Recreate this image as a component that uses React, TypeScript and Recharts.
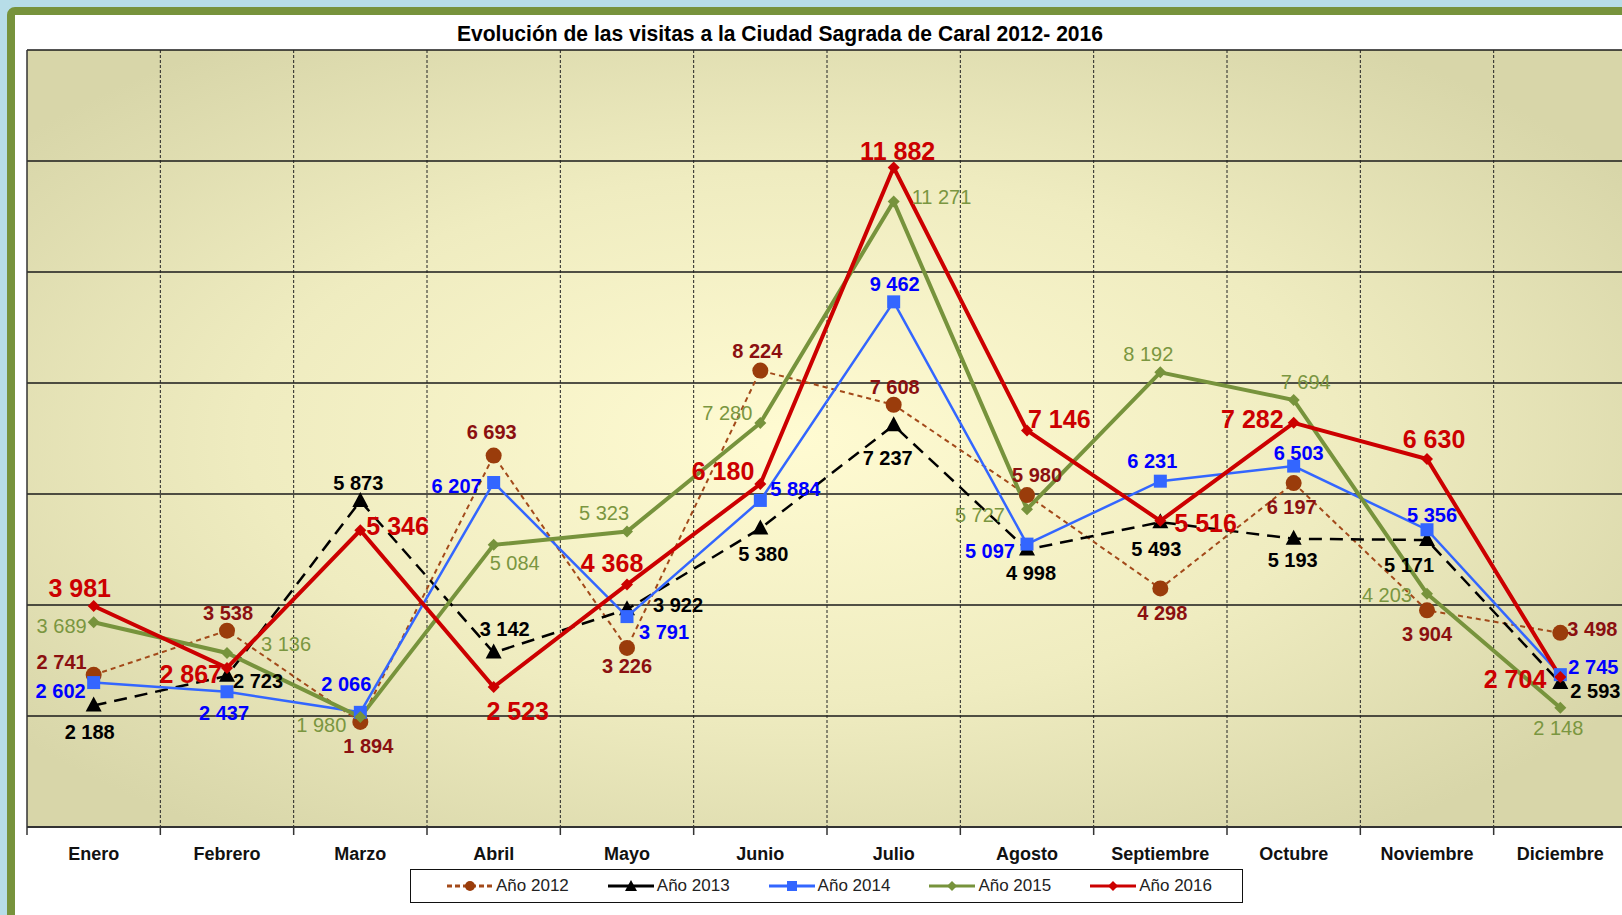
import React from "react";
import { LineChart, Line, XAxis, YAxis, CartesianGrid } from "recharts";

const meses = ["Enero", "Febrero", "Marzo", "Abril", "Mayo", "Junio", "Julio", "Agosto", "Septiembre", "Octubre", "Noviembre", "Diciembre"];
const anio2012 = [2741, 3538, 1894, 6693, 3226, 8224, 7608, 5980, 4298, 6197, 3904, 3498];
const anio2013 = [2188, 2723, 5873, 3142, 3922, 5380, 7237, 4998, 5493, 5193, 5171, 2593];
const anio2014 = [2602, 2437, 2066, 6207, 3791, 5884, 9462, 5097, 6231, 6503, 5356, 2745];
const anio2015 = [3689, 3136, 1980, 5084, 5323, 7280, 11271, 5727, 8192, 7694, 4203, 2148];
const anio2016 = [3981, 2867, 5346, 2523, 4368, 6180, 11882, 7146, 5516, 7282, 6630, 2704];
const yTicks = [0, 2000, 4000, 6000, 8000, 10000, 12000, 14000];

// label placement relative to each marker: [anchor, dx, dy(baseline)]
type Place = [string, number, number];
const lbl2012: Place[] = [["e", -7, -6], ["m", 1, -11], ["m", 8, 31], ["m", -2, -17], ["m", 0, 25], ["m", -3, -13], ["m", 1, -11], ["m", 10, -13], ["m", 2, 32], ["m", -2, 31], ["m", 0, 31], ["s", 7, 3]];
const lbl2013: Place[] = [["m", -4, 33], ["s", 6, 12], ["m", -2, -11], ["m", 11, -17], ["s", 26, 3], ["m", 3, 33], ["m", -6, 40], ["m", 4, 30], ["m", -4, 34], ["m", -1, 28], ["m", -18, 32], ["s", 10, 15]];
const lbl2014: Place[] = [["e", -8, 15], ["m", -3, 28], ["m", -14, -21], ["e", -12, 10], ["s", 12, 22], ["s", 10, -4], ["m", 1, -11], ["e", -12, 14], ["m", -8, -13], ["m", 5, -6], ["m", 5, -8], ["s", 8, -1]];
const lbl2015: Place[] = [["e", -7, 11], ["s", 34, -2], ["e", -14, 15], ["m", 21, 25], ["m", -23, -12], ["e", -8, -3], ["s", 18, 3], ["e", -22, 13], ["m", -12, -11], ["m", 12, -11], ["e", -15, 8], ["m", -2, 27]];
const lbl2016: Place[] = [["m", -14, -9], ["e", -5, 15], ["s", 6, 5], ["m", 24, 33], ["m", -15, -13], ["e", -6, -4], ["m", 4, -8], ["s", 1, -2], ["s", 14, 11], ["e", -10, 5], ["m", 7, -11], ["e", -14, 11]];

const data = meses.map((mes, i) => ({
  mes,
  a2012: anio2012[i],
  a2013: anio2013[i],
  a2014: anio2014[i],
  a2015: anio2015[i],
  a2016: anio2016[i],
}));

const FONT = "'Liberation Sans', Arial, sans-serif";
const CHART_W = 1700;
const CHART_H = 915;
const ML = 27;
const MR = 73;
const MT = 50;
const AXIS_H = 88;
const BAND = (CHART_W - ML - MR) / 12;

const fmt = (v: number) => String(v).replace(/\B(?=(\d{3})+(?!\d))/g, " ");

const CircleDot = (p: any) =>
  p.cx == null ? null : <circle key={`c${p.index}`} cx={p.cx} cy={p.cy} r={8} fill="#9a3c0b" />;
const TriDot = (p: any) =>
  p.cx == null ? null : (
    <polygon key={`t${p.index}`} points={`${p.cx},${p.cy - 9} ${p.cx - 8},${p.cy + 6} ${p.cx + 8},${p.cy + 6}`} fill="#000" />
  );
const SquareDot = (p: any) =>
  p.cx == null ? null : <rect key={`s${p.index}`} x={p.cx - 6.5} y={p.cy - 6.5} width={13} height={13} fill="#3366ff" />;
const diamond = (color: string, s: number) => (p: any) =>
  p.cx == null ? null : (
    <polygon key={`d${p.index}`} points={`${p.cx},${p.cy - s} ${p.cx + s},${p.cy} ${p.cx},${p.cy + s} ${p.cx - s},${p.cy}`} fill={color} />
  );

const makeLabel = (place: Place[], color: string, size: number, weight: string) => (p: any) => {
  if (p.cx == null) return null;
  const [a, dx, dy] = place[p.index];
  return (
    <text
      key={`l${p.index}`}
      x={p.cx + dx}
      y={p.cy + dy}
      textAnchor={a === "s" ? "start" : a === "e" ? "end" : "middle"}
      fill={color}
      fontSize={size}
      fontWeight={weight}
      fontFamily={FONT}
    >
      {fmt(p.value)}
    </text>
  );
};

const MesTick = (p: any) => {
  const { x, y, index, payload } = p;
  return (
    <g>
      <line x1={x - BAND / 2} y1={y} x2={x - BAND / 2} y2={y + 8} stroke="#333" strokeWidth={1.5} />
      {index === 11 && <line x1={x + BAND / 2} y1={y} x2={x + BAND / 2} y2={y + 8} stroke="#333" strokeWidth={1.5} />}
      <text x={x} y={y + 33} textAnchor="middle" fontSize={18} fontWeight="bold" fontFamily={FONT} fill="#111">
        {payload.value}
      </text>
    </g>
  );
};

const leyenda = [
  { name: "Año 2012", color: "#a34a1a", dash: "5 3", mark: "c" },
  { name: "Año 2013", color: "#000", dash: "", mark: "t" },
  { name: "Año 2014", color: "#3366ff", dash: "", mark: "s" },
  { name: "Año 2015", color: "#77933c", dash: "", mark: "d" },
  { name: "Año 2016", color: "#cc0000", dash: "", mark: "d" },
];

function Muestra({ color, dash, mark }: { color: string; dash: string; mark: string }) {
  return (
    <svg width={50} height={16} style={{ display: "block" }}>
      <line x1={2} y1={8} x2={48} y2={8} stroke={color} strokeWidth={3} strokeDasharray={dash || undefined} />
      {mark === "c" && <circle cx={25} cy={8} r={5} fill="#9a3c0b" />}
      {mark === "t" && <polygon points="25,2 19,13 31,13" fill="#000" />}
      {mark === "s" && <rect x={20} y={3} width={10} height={10} fill="#3366ff" />}
      {mark === "d" && <polygon points="25,3 30,8 25,13 20,8" fill={color} />}
    </svg>
  );
}

export default function App() {
  return (
    <div style={{ position: "fixed", left: 0, top: 0, width: 1622, height: 915, overflow: "hidden", background: "#b7dde8" }}>
      <div
        style={{
          position: "absolute",
          left: 7,
          top: 7,
          width: 1750,
          height: 1000,
          border: "8px solid #77933c",
          borderRadius: 8,
          background: "#fff",
        }}
      />
      <div style={{ position: "absolute", left: 0, top: 0 }}>
        <LineChart width={CHART_W} height={CHART_H} data={data} margin={{ top: MT, right: MR, bottom: 0, left: ML }}>
          <defs>
            <radialGradient id="fondo" cx="0.48" cy="0.5" r="0.62">
              <stop offset="0%" stopColor="#fffbd2" />
              <stop offset="55%" stopColor="#efecc0" />
              <stop offset="100%" stopColor="#d8d6a9" />
            </radialGradient>
          </defs>
          <CartesianGrid horizontal vertical={false} stroke="#1a1a1a" strokeWidth={1.3} fill="url(#fondo)" fillOpacity={1} />
          <CartesianGrid
            horizontal={false}
            stroke="#222"
            strokeDasharray="3 2"
            verticalCoordinatesGenerator={({ offset }: any) =>
              Array.from({ length: 11 }, (_, i) => offset.left + ((i + 1) * offset.width) / 12)
            }
          />
          <CartesianGrid
            horizontal={false}
            stroke="#333"
            strokeWidth={1.5}
            verticalCoordinatesGenerator={({ offset }: any) => [offset.left, offset.left + offset.width]}
          />
          <XAxis
            dataKey="mes"
            height={AXIS_H}
            interval={0}
            padding={{ left: BAND / 2, right: BAND / 2 }}
            tickLine={false}
            tickSize={0}
            tickMargin={0}
            axisLine={{ stroke: "#333", strokeWidth: 2 }}
            tick={<MesTick />}
          />
          <YAxis hide width={0} type="number" domain={[0, 14000]} ticks={yTicks} />

          <Line type="linear" dataKey="a2012" stroke="#a34a1a" strokeWidth={2} strokeDasharray="5 4" dot={CircleDot} activeDot={false} isAnimationActive={false} />
          <Line type="linear" dataKey="a2013" stroke="#000" strokeWidth={2.5} strokeDasharray="13 8" dot={TriDot} activeDot={false} isAnimationActive={false} />
          <Line type="linear" dataKey="a2014" stroke="#3366ff" strokeWidth={2.5} dot={SquareDot} activeDot={false} isAnimationActive={false} />
          <Line type="linear" dataKey="a2015" stroke="#77933c" strokeWidth={4} dot={diamond("#77933c", 6)} activeDot={false} isAnimationActive={false} />
          <Line type="linear" dataKey="a2016" stroke="#cc0000" strokeWidth={4} dot={diamond("#cc0000", 6)} activeDot={false} isAnimationActive={false} />

          <Line dataKey="a2012" stroke="none" dot={makeLabel(lbl2012, "#8b1010", 20, "bold")} activeDot={false} legendType="none" isAnimationActive={false} />
          <Line dataKey="a2013" stroke="none" dot={makeLabel(lbl2013, "#000", 20, "bold")} activeDot={false} legendType="none" isAnimationActive={false} />
          <Line dataKey="a2014" stroke="none" dot={makeLabel(lbl2014, "#0000ff", 20, "bold")} activeDot={false} legendType="none" isAnimationActive={false} />
          <Line dataKey="a2015" stroke="none" dot={makeLabel(lbl2015, "#7a9640", 20, "normal")} activeDot={false} legendType="none" isAnimationActive={false} />
          <Line dataKey="a2016" stroke="none" dot={makeLabel(lbl2016, "#cc0000", 25, "bold")} activeDot={false} legendType="none" isAnimationActive={false} />
        </LineChart>
      </div>
      <svg width={1622} height={60} style={{ position: "absolute", left: 0, top: 0 }}>
        <text x={780} y={41} textAnchor="middle" fontSize={22} fontWeight="bold" fontFamily={FONT} fill="#000" textLength={646} lengthAdjust="spacingAndGlyphs">
          Evolución de las visitas a la Ciudad Sagrada de Caral 2012- 2016
        </text>
      </svg>
      <div
        style={{
          position: "absolute",
          left: 410,
          top: 869,
          width: 833,
          height: 34,
          boxSizing: "border-box",
          border: "1.5px solid #111",
          background: "#fff",
          display: "flex",
          alignItems: "center",
          paddingLeft: 34,
          gap: 37,
          fontFamily: FONT,
          fontSize: 17,
          color: "#222",
        }}
      >
        {leyenda.map((l) => (
          <div key={l.name} style={{ display: "flex", alignItems: "center" }}>
            <Muestra color={l.color} dash={l.dash} mark={l.mark} />
            <span style={{ marginLeft: 1 }}>{l.name}</span>
          </div>
        ))}
      </div>
    </div>
  );
}
